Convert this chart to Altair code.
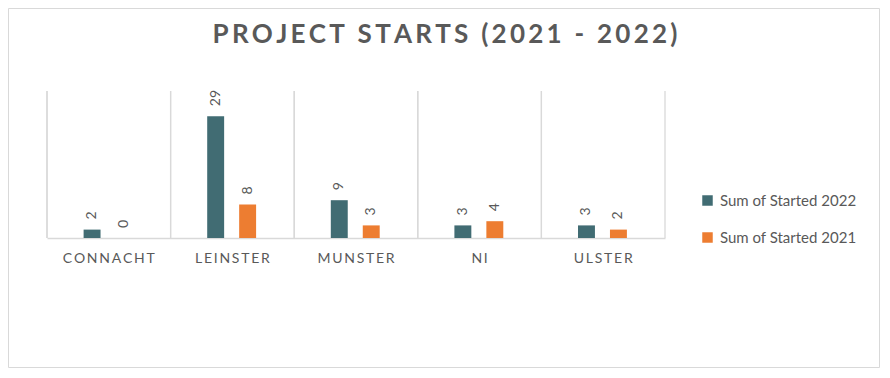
import altair as alt
import pandas as pd

regions = ["Connacht", "Leinster", "Munster", "NI", "Ulster"]
series = ["Sum of Started 2022", "Sum of Started 2021"]
started_2022 = [2, 29, 9, 3, 3]
started_2021 = [0, 8, 3, 4, 2]
colors = ["#416C73", "#ED7D31"]
title_text = "PROJECT STARTS (2021 - 2022)"

rows = []
for r, a, b in zip(regions, started_2022, started_2021):
    rows.append({"region": r, "series": series[0], "value": a})
    rows.append({"region": r, "series": series[1], "value": b})
df = pd.DataFrame(rows)

W, H = 618, 147
PL, PT, PR, PB = 39, 83, 215, 130
GREY = "#D9D9D9"
TXT = "#595959"
FONT = "Lato"

xscale = alt.Scale(domain=regions, paddingInner=0, paddingOuter=0)
xaxis = alt.Axis(title=None, ticks=False, domain=True, domainColor=GREY,
                 domainWidth=1.3, labelColor=TXT, labelFontSize=14, labelFont=FONT,
                 labelPadding=13, labelAngle=0, grid=False,
                 labelExpr="join(split(upper(datum.label), ''), '\u2009')")
x = alt.X("region:N", scale=xscale, sort=regions, axis=xaxis)
xo = alt.XOffset("series:N", sort=series,
                 scale=alt.Scale(domain=series, paddingInner=0.47, paddingOuter=0,
                                 range=[36.6, 85.5]))
y = alt.Y("value:Q", scale=alt.Scale(domain=[0, 35]), axis=None)

base = alt.Chart(df)

grid_left = base.mark_rule(color=GREY, strokeWidth=1.3).encode(
    x=alt.X("region:N", scale=xscale, sort=regions, bandPosition=0, axis=xaxis),
    y=alt.value(0), y2=alt.value(H))
grid_right = alt.Chart(pd.DataFrame({"a": [0]})).mark_rule(color=GREY, strokeWidth=1.3).encode(
    x=alt.value(W), y=alt.value(0), y2=alt.value(H))

bars = base.mark_bar().encode(
    x=x, xOffset=xo, y=y,
    color=alt.Color("series:N", sort=series,
                    scale=alt.Scale(domain=series, range=colors),
                    legend=alt.Legend(title=None, orient="none", legendX=653, legendY=102,
                                      symbolType="square", symbolSize=110, symbolStrokeWidth=0,
                                      labelFontSize=15, labelColor=TXT, labelFont=FONT,
                                      rowPadding=21, labelOffset=5)))

labels = base.mark_text(angle=270, align="left", baseline="middle", dx=10,
                        fontSize=14, color=TXT, font=FONT).encode(
    x=x, xOffset=xo, y=y, text="value:Q")

border = alt.Chart(pd.DataFrame({"a": [0]})).mark_rect(fill=None, stroke=GREY, strokeWidth=1).encode(
    x=alt.value(-PL + 0.5), x2=alt.value(W + PR - 0.5),
    y=alt.value(-PT + 0.5), y2=alt.value(H + PB - 0.5))

chart = alt.layer(border, grid_left, grid_right, bars, labels).properties(
    width=W, height=H,
    padding={"left": PL, "top": PT, "right": PR, "bottom": PB},
    autosize=alt.AutoSizeParams(type="none"),
    title=alt.Title("\u200a\u200a".join(title_text), fontSize=26, fontWeight="bold", color=TXT,
                    font=FONT, anchor="middle", dx=89, offset=-61, baseline="alphabetic"),
).configure_view(stroke=None)

chart.save("out.html", embed_options={"renderer": "svg", "actions": False})
